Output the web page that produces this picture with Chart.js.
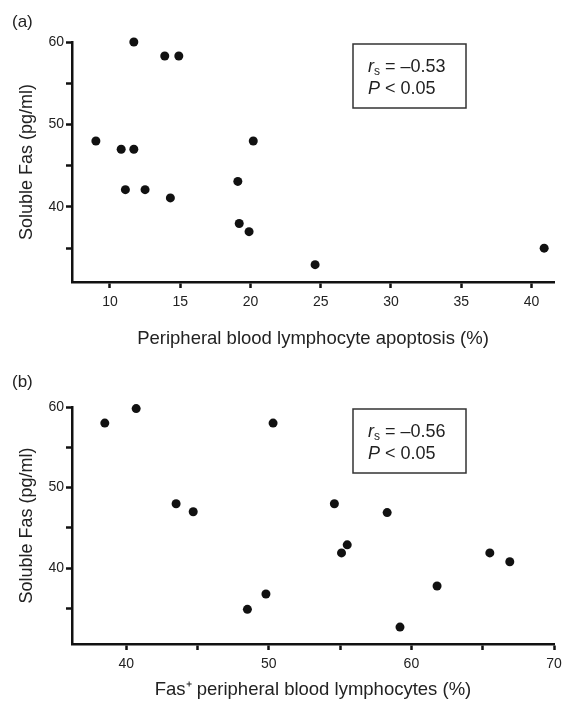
<!DOCTYPE html>
<html>
<head>
<meta charset="utf-8">
<script src="https://cdn.jsdelivr.net/npm/chart.js@4.4.1/dist/chart.umd.min.js"></script>
<style>
  body { margin: 0; background: #fff; }
  .panel { position: absolute; left: 0; width: 568px; height: 355px; }
</style>
</head>
<body>
<div class="panel" style="top:0"><canvas id="chartA"></canvas></div>
<div class="panel" style="top:360px"><canvas id="chartB"></canvas></div>
<script>
// (a) peripheral blood lymphocyte apoptosis (%) vs soluble Fas (pg/ml)
var apoptosisPct = [11.7, 13.9, 14.9, 9.0, 10.8, 11.7, 11.1, 12.5, 14.3, 19.1, 19.2, 19.9, 20.2, 24.6, 40.9];
var solubleFasA  = [60.0, 58.3, 58.3, 48.0, 47.0, 47.0, 42.1, 42.1, 41.1, 43.1, 38.0, 37.0, 48.0, 33.0, 35.0];

// (b) Fas+ peripheral blood lymphocytes (%) vs soluble Fas (pg/ml)
var fasPosPct   = [38.5, 40.7, 43.5, 44.7, 50.3, 54.6, 55.1, 55.5, 58.3, 48.5, 49.8, 59.2, 61.8, 65.5, 66.9];
var solubleFasB = [58.0, 59.8, 48.0, 47.0, 58.0, 48.0, 41.9, 42.9, 46.9, 34.9, 36.8, 32.7, 37.8, 41.9, 40.8];

// tick marks and which of them get a label
var yTicks   = [35, 40, 45, 50, 55, 60];
var yLabels  = [40, 50, 60];
var xTicksA  = [10, 15, 20, 25, 30, 35, 40];
var xLabelsA = [10, 15, 20, 25, 30, 35, 40];
var xTicksB  = [40, 45, 50, 55, 60, 65, 70];
var xLabelsB = [40, 50, 60, 70];

var FONT = "'Liberation Sans', Arial, Helvetica, sans-serif";
var INK = "#111";

// draws the panel letter and the statistics box
var statsBox = {
  id: "statsBox",
  afterDraw: function (chart, args, o) {
    var ctx = chart.ctx;
    var area = chart.chartArea;
    ctx.save();
    ctx.fillStyle = "#222";
    ctx.textBaseline = "middle";
    ctx.textAlign = "left";
    ctx.font = "17px " + FONT;
    ctx.fillText(o.letter, 12, 22);

    var bx = area.left + 281, by = area.top + 2, bw = 113, bh = 64;
    ctx.strokeStyle = "#333";
    ctx.lineWidth = 1.5;
    ctx.strokeRect(bx, by, bw, bh);

    var tx = bx + 15;
    var y1 = by + 23, y2 = by + 45;
    ctx.font = "italic 18px " + FONT;
    ctx.fillText("r", tx, y1);
    var w = ctx.measureText("r").width;
    ctx.font = "12px " + FONT;
    ctx.fillText("s", tx + w, y1 + 5);
    w += ctx.measureText("s").width;
    ctx.font = "18px " + FONT;
    ctx.fillText(" = \u2013" + o.rs, tx + w, y1);

    ctx.font = "italic 18px " + FONT;
    ctx.fillText("P", tx, y2);
    w = ctx.measureText("P").width;
    ctx.font = "18px " + FONT;
    ctx.fillText(" < " + o.p, tx + w, y2);
    ctx.restore();
  }
};

function axisGrid() {
  return { display: true, drawOnChartArea: false, drawTicks: true, tickLength: 6, tickWidth: 2.5, tickColor: INK };
}

function makeChart(id, xs, ys, cfg) {
  var pts = [];
  for (var i = 0; i < xs.length; i++) pts.push({ x: xs[i], y: ys[i] });
  return new Chart(document.getElementById(id), {
    type: "scatter",
    data: {
      datasets: [{
        data: pts,
        pointRadius: 4.5,
        pointBackgroundColor: INK,
        pointBorderColor: INK,
        pointBorderWidth: 0,
        clip: false
      }]
    },
    plugins: [statsBox],
    options: {
      responsive: true,
      maintainAspectRatio: false,
      animation: false,
      devicePixelRatio: 1,
      layout: { padding: { top: cfg.top, right: 14, left: 0, bottom: 0 } },
      plugins: {
        legend: { display: false },
        tooltip: { enabled: false },
        statsBox: { letter: cfg.letter, rs: cfg.rs, p: "0.05" }
      },
      scales: {
        x: {
          type: "linear",
          min: cfg.xMin,
          max: cfg.xMax,
          afterBuildTicks: function (s) { s.ticks = cfg.xTicks.map(function (v) { return { value: v }; }); },
          afterFit: function (s) { s.height = cfg.xHeight; },
          border: { display: true, color: INK, width: 2.5 },
          grid: axisGrid(),
          ticks: {
            autoSkip: false, maxRotation: 0, padding: 6, color: "#222",
            font: { family: FONT, size: 14 },
            callback: function (v) { return cfg.xLabels.indexOf(v) >= 0 ? v : ""; }
          },
          title: {
            display: true, text: cfg.xTitle, color: "#222",
            font: { family: FONT, size: 18.5 },
            padding: { top: 0, bottom: cfg.titlePad }
          }
        },
        y: {
          type: "linear",
          min: cfg.yMin,
          max: 60,
          afterBuildTicks: function (s) { s.ticks = yTicks.map(function (v) { return { value: v }; }); },
          afterFit: function (s) { s.width = 72; },
          border: { display: true, color: INK, width: 2.5 },
          grid: axisGrid(),
          ticks: {
            autoSkip: false, padding: 2, color: "#222",
            font: { family: FONT, size: 14 },
            callback: function (v) { return yLabels.indexOf(v) >= 0 ? v : ""; }
          },
          title: {
            display: true, text: "Soluble Fas (pg/ml)", color: "#222",
            font: { family: FONT, size: 18 },
            padding: { top: 16, bottom: 0 }
          }
        }
      }
    }
  });
}

makeChart("chartA", apoptosisPct, solubleFasA, {
  letter: "(a)", rs: "0.53", top: 42, xHeight: 73, titlePad: 5,
  xMin: 7.3, xMax: 41.6, yMin: 30.9,
  xTicks: xTicksA, xLabels: xLabelsA,
  xTitle: "Peripheral blood lymphocyte apoptosis (%)"
});

makeChart("chartB", fasPosPct, solubleFasB, {
  letter: "(b)", rs: "0.56", top: 47, xHeight: 71, titlePad: 14,
  xMin: 36.2, xMax: 70, yMin: 30.6,
  xTicks: xTicksB, xLabels: xLabelsB,
  xTitle: "Fas\u207A peripheral blood lymphocytes (%)"
});
</script>
</body>
</html>
